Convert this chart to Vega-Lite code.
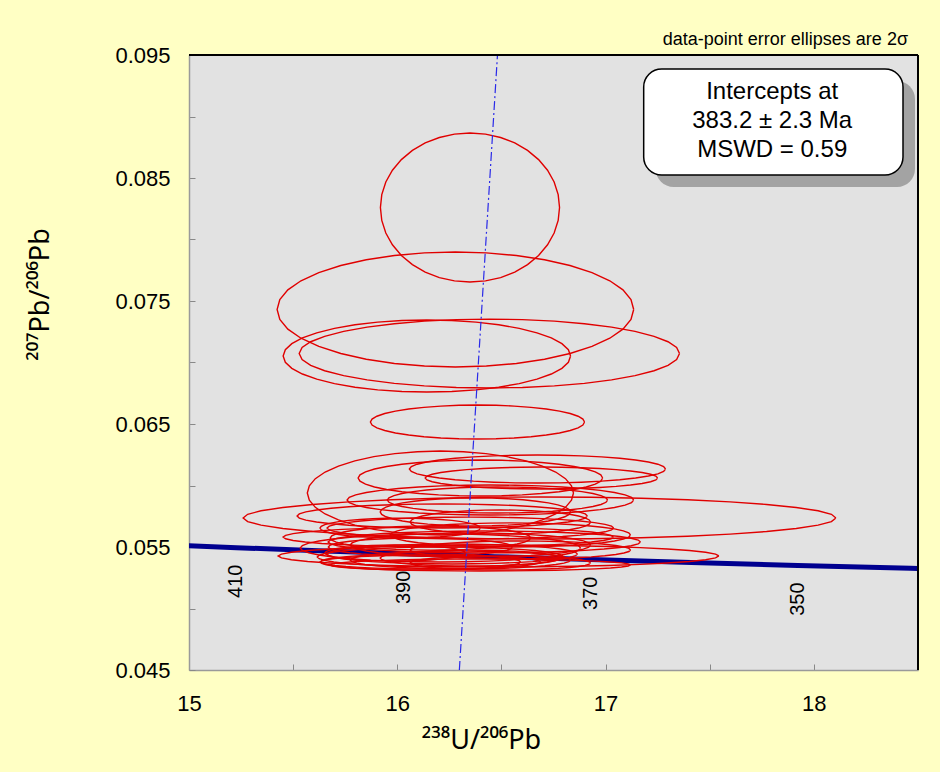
{
  "$schema": "https://vega.github.io/schema/vega-lite/v6.json",
  "width": 729,
  "height": 615,
  "autosize": {"type": "none"},
  "padding": {"left": 189, "top": 55, "right": 22, "bottom": 102},
  "background": "#FFFFC4",
  "config": {
    "view": {"fill": "#E2E2E2", "stroke": null},
    "font": "Liberation Sans",
    "axis": {
      "domainColor": "#9a9a9a",
      "domainWidth": 1.5,
      "tickColor": "#888888",
      "tickSize": -6,
      "tickWidth": 1,
      "grid": false,
      "labelFont": "Liberation Sans",
      "labelFontSize": 22,
      "labelColor": "#000000",
      "labelFlush": false,
      "titleFont": "Noto Sans",
      "titleFontWeight": "normal",
      "titleColor": "#000000",
      "titleFontSize": 27
    }
  },
  "datasets": {
    "ellipses": [
      {"id": 1, "x": 16.349, "sx": 0.430, "y": 0.08260, "sy": 0.00606},
      {"id": 2, "x": 16.279, "sx": 0.856, "y": 0.07431, "sy": 0.00467},
      {"id": 3, "x": 16.142, "sx": 0.690, "y": 0.07053, "sy": 0.00293},
      {"id": 4, "x": 16.442, "sx": 0.913, "y": 0.07073, "sy": 0.00280},
      {"id": 5, "x": 16.385, "sx": 0.514, "y": 0.06516, "sy": 0.00138},
      {"id": 6, "x": 16.207, "sx": 0.639, "y": 0.05939, "sy": 0.00341},
      {"id": 7, "x": 16.683, "sx": 1.423, "y": 0.05736, "sy": 0.00171},
      {"id": 8, "x": 16.399, "sx": 0.587, "y": 0.06061, "sy": 0.00146},
      {"id": 9, "x": 16.673, "sx": 0.615, "y": 0.06134, "sy": 0.00114},
      {"id": 10, "x": 16.692, "sx": 0.558, "y": 0.06061, "sy": 0.00089},
      {"id": 11, "x": 16.447, "sx": 0.688, "y": 0.05882, "sy": 0.00122},
      {"id": 12, "x": 16.481, "sx": 0.529, "y": 0.05882, "sy": 0.00106},
      {"id": 13, "x": 16.216, "sx": 0.697, "y": 0.05752, "sy": 0.00098},
      {"id": 14, "x": 16.245, "sx": 0.793, "y": 0.05581, "sy": 0.00081},
      {"id": 15, "x": 16.486, "sx": 1.058, "y": 0.05427, "sy": 0.00089},
      {"id": 16, "x": 16.351, "sx": 0.688, "y": 0.05654, "sy": 0.00089},
      {"id": 17, "x": 16.418, "sx": 0.750, "y": 0.05541, "sy": 0.00089},
      {"id": 18, "x": 16.264, "sx": 0.601, "y": 0.05443, "sy": 0.00081},
      {"id": 19, "x": 16.111, "sx": 0.442, "y": 0.05500, "sy": 0.00073},
      {"id": 20, "x": 16.207, "sx": 0.591, "y": 0.05419, "sy": 0.00081},
      {"id": 21, "x": 16.351, "sx": 0.577, "y": 0.05516, "sy": 0.00098},
      {"id": 22, "x": 16.159, "sx": 0.481, "y": 0.05573, "sy": 0.00098},
      {"id": 23, "x": 16.495, "sx": 0.433, "y": 0.05703, "sy": 0.00098},
      {"id": 24, "x": 16.303, "sx": 0.529, "y": 0.05394, "sy": 0.00073},
      {"id": 25, "x": 16.591, "sx": 0.529, "y": 0.05476, "sy": 0.00073},
      {"id": 26, "x": 16.014, "sx": 0.385, "y": 0.05654, "sy": 0.00081},
      {"id": 27, "x": 16.375, "sx": 0.457, "y": 0.05785, "sy": 0.00114},
      {"id": 28, "x": 16.111, "sx": 0.481, "y": 0.05378, "sy": 0.00065},
      {"id": 29, "x": 16.495, "sx": 0.433, "y": 0.05370, "sy": 0.00057},
      {"id": 30, "x": 16.399, "sx": 0.721, "y": 0.05354, "sy": 0.00049},
      {"id": 31, "x": 16.207, "sx": 0.673, "y": 0.05492, "sy": 0.00114},
      {"id": 32, "x": 16.543, "sx": 0.577, "y": 0.05598, "sy": 0.00098},
      {"id": 33, "x": 16.159, "sx": 0.529, "y": 0.05378, "sy": 0.00057},
      {"id": 34, "x": 16.351, "sx": 0.433, "y": 0.05410, "sy": 0.00065},
      {"id": 35, "x": 15.990, "sx": 0.337, "y": 0.05451, "sy": 0.00065}
    ],
    "concordia": [
      {"age": 335, "x": 18.747, "y": 0.053145},
      {"age": 340, "x": 18.464, "y": 0.053263},
      {"age": 350, "x": 17.923, "y": 0.053498},
      {"age": 360, "x": 17.411, "y": 0.053736},
      {"age": 370, "x": 16.928, "y": 0.053975},
      {"age": 380, "x": 16.469, "y": 0.054215},
      {"age": 390, "x": 16.034, "y": 0.054457},
      {"age": 400, "x": 15.621, "y": 0.054700},
      {"age": 410, "x": 15.228, "y": 0.054945},
      {"age": 420, "x": 14.854, "y": 0.055192}
    ],
    "regression": [
      {"x": 16.298, "y": 0.045},
      {"x": 16.481, "y": 0.095}
    ]
  },
  "layer": [
    {
      "data": {"name": "concordia"},
      "mark": {"type": "line", "color": "#000090", "strokeWidth": 5, "clip": true},
      "encoding": {
        "x": {"field": "x", "type": "quantitative",
              "scale": {"domain": [15, 18.5], "nice": false, "zero": false},
              "axis": {
                "title": "²³⁸U/²⁰⁶Pb",
                "values": [15, 15.5, 16, 16.5, 17, 17.5, 18, 18.5],
                "labelExpr": "datum.value % 1 === 0 ? format(datum.value, 'd') : ''",
                "labelPadding": 29,
                "titleX": 292,
                "titleY": 70,
                "titleAlign": "center",
                "titleBaseline": "middle"
              }},
        "y": {"field": "y", "type": "quantitative",
              "scale": {"domain": [0.045, 0.095], "nice": false, "zero": false},
              "axis": {
                "title": "²⁰⁷Pb/²⁰⁶Pb",
                "values": [0.045, 0.05, 0.055, 0.06, 0.065, 0.07, 0.075, 0.08, 0.085, 0.09, 0.095],
                "labelExpr": "(round(datum.value * 1000) % 10 === 5) ? format(datum.value, '.3f') : ''",
                "labelPadding": 25,
                "titleX": -149,
                "titleY": 239,
                "titleAngle": 270,
                "titleAlign": "center",
                "titleBaseline": "middle"
              }},
        "order": {"field": "age", "type": "quantitative"}
      }
    },
    {
      "data": {"name": "ellipses"},
      "transform": [
        {"fold": ["0","10","20","30","40","50","60","70","80","90","100","110","120","130","140","150","160","170","180","190","200","210","220","230","240","250","260","270","280","290","300","310","320","330","340","350","360"], "as": ["deg", "v"]},
        {"calculate": "toNumber(datum.deg)", "as": "a"},
        {"calculate": "datum.x + datum.sx * cos(datum.a * PI / 180)", "as": "ex"},
        {"calculate": "datum.y + datum.sy * sin(datum.a * PI / 180)", "as": "ey"}
      ],
      "mark": {"type": "line", "color": "#E00000", "strokeWidth": 1.4, "clip": true},
      "encoding": {
        "x": {"field": "ex", "type": "quantitative"},
        "y": {"field": "ey", "type": "quantitative"},
        "detail": {"field": "id", "type": "nominal"},
        "order": {"field": "a", "type": "quantitative"}
      }
    },
    {
      "data": {"name": "regression"},
      "mark": {"type": "line", "color": "#2a2ae8", "strokeWidth": 1.2, "strokeDash": [9, 3, 2, 3], "clip": true},
      "encoding": {
        "x": {"field": "x", "type": "quantitative"},
        "y": {"field": "y", "type": "quantitative"}
      }
    },
    {
      "data": {"values": [{}]},
      "mark": {"type": "rule", "color": "#000000", "strokeWidth": 2},
      "encoding": {
        "y": {"datum": 0.095, "type": "quantitative"}
      }
    },
    {
      "data": {"values": [{}]},
      "mark": {"type": "rule", "color": "#000000", "strokeWidth": 2},
      "encoding": {
        "x": {"datum": 18.5, "type": "quantitative"}
      }
    },
    {
      "data": {"name": "concordia"},
      "transform": [{"filter": "datum.age === 350 || datum.age === 370 || datum.age === 390 || datum.age === 410"}],
      "mark": {"type": "text", "angle": 270, "align": "right", "baseline": "middle", "dx": -17, "fontSize": 20, "font": "Liberation Sans", "color": "#000000"},
      "encoding": {
        "x": {"field": "x", "type": "quantitative"},
        "y": {"field": "y", "type": "quantitative"},
        "text": {"field": "age", "type": "quantitative"}
      }
    },
    {
      "data": {"values": [{}]},
      "mark": {"type": "rect", "fill": "#a3a3a3", "cornerRadius": 18, "xOffset": 12, "x2Offset": 12, "yOffset": 12, "y2Offset": 12},
      "encoding": {
        "x": {"datum": 17.183, "type": "quantitative"},
        "x2": {"datum": 18.428},
        "y": {"datum": 0.09386, "type": "quantitative"},
        "y2": {"datum": 0.08524}
      }
    },
    {
      "data": {"values": [{}]},
      "mark": {"type": "rect", "fill": "#FFFFFF", "stroke": "#000000", "strokeWidth": 1.5, "cornerRadius": 18},
      "encoding": {
        "x": {"datum": 17.183, "type": "quantitative"},
        "x2": {"datum": 18.428},
        "y": {"datum": 0.09386, "type": "quantitative"},
        "y2": {"datum": 0.08524}
      }
    },
    {
      "data": {"values": [{}]},
      "mark": {"type": "text", "align": "center", "baseline": "middle", "fontSize": 24, "lineHeight": 29, "font": "Liberation Sans", "color": "#000000"},
      "encoding": {
        "x": {"datum": 17.80, "type": "quantitative"},
        "y": {"datum": 0.09199, "type": "quantitative"},
        "text": {"value": ["Intercepts at", "383.2 ± 2.3 Ma", "MSWD = 0.59"]}
      }
    },
    {
      "data": {"values": [{}]},
      "mark": {"type": "text", "align": "right", "baseline": "middle", "fontSize": 18, "font": "Liberation Sans", "color": "#000000"},
      "encoding": {
        "x": {"datum": 18.452, "type": "quantitative"},
        "y": {"datum": 0.09622, "type": "quantitative"},
        "text": {"value": "data-point error ellipses are 2σ"}
      }
    }
  ]
}
